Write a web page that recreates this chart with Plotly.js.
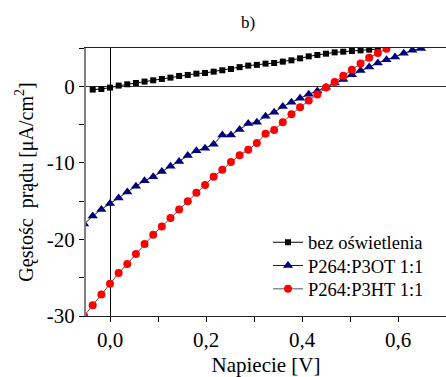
<!DOCTYPE html>
<html>
<head>
<meta charset="utf-8">
<script src="https://cdn.plot.ly/plotly-3.0.1.min.js"></script>
<style>html,body{margin:0;padding:0;background:#fff;}#chart{width:446px;height:377px;}</style>
</head>
<body>
<div id="chart"></div>
<script>
// Voltage [V]
var darkX = [-0.036,-0.018,0,0.018,0.036,0.054,0.072,0.09,0.108,0.126,0.144,0.162,0.18,0.198,0.216,0.234,0.252,0.27,0.288,0.306,0.324,0.342,0.36,0.378,0.396,0.414,0.432,0.45,0.468,0.486,0.504,0.522,0.54,0.558];
var darkY = [-0.43,-0.35,-0.17,0.09,0.26,0.43,0.61,0.78,0.96,1.13,1.35,1.48,1.65,1.74,1.91,2.09,2.26,2.5,2.7,2.8,2.96,3.04,3.22,3.39,3.65,3.91,4.09,4.26,4.43,4.52,4.61,4.69,4.78,4.87];

var p3otX = [-0.054,-0.036,-0.018,0,0.018,0.036,0.054,0.072,0.09,0.108,0.126,0.144,0.162,0.18,0.198,0.216,0.234,0.252,0.27,0.288,0.306,0.324,0.342,0.36,0.378,0.396,0.414,0.432,0.45,0.468,0.486,0.504,0.522,0.54,0.558,0.576,0.594,0.612,0.63,0.648];
var p3otY = [-18.0,-16.95,-16.08,-15.3,-14.6,-13.82,-13.04,-12.34,-11.82,-11.13,-10.43,-9.82,-9.04,-8.43,-8.08,-7.56,-6.35,-6.35,-5.65,-4.87,-4.69,-3.9,-3.39,-2.65,-2.1,-1.55,-1.04,-0.6,-0.12,0.43,0.87,1.5,2.05,2.52,3.04,3.48,3.82,4.3,4.69,4.95];

var p3htX = [-0.054,-0.036,-0.018,0,0.018,0.036,0.054,0.072,0.09,0.108,0.126,0.144,0.162,0.18,0.198,0.216,0.234,0.252,0.27,0.288,0.306,0.324,0.342,0.36,0.378,0.396,0.414,0.432,0.45,0.468,0.486,0.504,0.522,0.54,0.558,0.576];
var p3htY = [-30.0,-28.6,-27.2,-25.8,-24.4,-23.2,-21.9,-20.6,-19.4,-18.3,-17.2,-16.1,-15.0,-13.9,-12.9,-11.8,-10.9,-9.9,-9.0,-8.3,-7.4,-6.2,-5.7,-4.7,-3.65,-2.75,-1.87,-1.06,-0.17,0.56,1.39,2.17,2.96,3.74,4.35,4.9];

var seriesNames = ['bez oświetlenia', 'P264:P3OT 1:1', 'P264:P3HT 1:1'];
var yTickVals = [-30, -20, -10, 0];
var yTickText = ['-30', '-20', '-10', '0'];

var FONT = 'Liberation Serif';

var traces = [
  {x: darkX, y: darkY, name: seriesNames[0], type: 'scatter', mode: 'lines+markers', legend: 'legend',
   line: {color: '#000', width: 1}, marker: {symbol: 'square', size: 6, color: '#000'}},
  {x: p3otX, y: p3otY, name: seriesNames[1], type: 'scatter', mode: 'lines+markers', legend: 'legend2',
   line: {color: '#222', width: 1}, marker: {symbol: 'triangle-up', size: 9, color: '#00007f'}},
  {x: p3htX, y: p3htY, name: seriesNames[2], type: 'scatter', mode: 'lines+markers', legend: 'legend3',
   line: {color: '#555', width: 1}, marker: {symbol: 'circle', size: 8, color: '#ff0000'}}
];

function leg(py) {
  return {x: (268-86)/360, xanchor: 'left', y: (316-py)/268, yanchor: 'middle',
          bgcolor: 'rgba(0,0,0,0)', borderwidth: 0,
          font: {family: FONT, size: 18.5, color: '#000'}};
}

var layout = {
  width: 446, height: 377,
  margin: {l: 86, r: 0, t: 48, b: 61, pad: 0},
  paper_bgcolor: '#fff', plot_bgcolor: '#fff',
  separators: ', ',
  font: {family: FONT, size: 20, color: '#000'},
  showlegend: true,
  title: {text: 'b)', font: {family: FONT, size: 17, color: '#000'},
          x: 248/446, xanchor: 'center', xref: 'container', y: 1 - 22/377, yanchor: 'middle', yref: 'container'},
  xaxis: {
    range: [-0.05, 0.7], dtick: 0.2, tick0: 0, tickformat: '.1f',
    ticks: 'outside', ticklen: 5, tickwidth: 1, tickcolor: '#000',
    minor: {dtick: 0.1, ticks: 'outside', ticklen: 5, tickwidth: 1, tickcolor: '#000', showgrid: false},
    showline: true, linecolor: '#222', linewidth: 1, mirror: true,
    showgrid: false, zeroline: true, zerolinecolor: '#000', zerolinewidth: 1,
    tickfont: {family: FONT, size: 21, color: '#000'},
    title: {text: 'Napiecie [V]', font: {family: FONT, size: 21, color: '#000'}, standoff: 16}
  },
  yaxis: {
    range: [-30, 5], tickvals: yTickVals, ticktext: yTickText,
    ticks: 'outside', ticklen: 5, tickwidth: 1, tickcolor: '#000',
    minor: {dtick: 5, tick0: 0, ticks: 'outside', ticklen: 5, tickwidth: 1, tickcolor: '#000', showgrid: false},
    showline: true, linecolor: '#808080', linewidth: 2, mirror: true,
    showgrid: false, zeroline: true, zerolinecolor: '#333', zerolinewidth: 1,
    tickfont: {family: FONT, size: 21, color: '#000'},
    title: {text: 'Gęstośc  prądu [μA/cm<sup>2</sup>]', font: {family: FONT, size: 20, color: '#000'}, standoff: 8}
  },
  legend: leg(242.7),
  legend2: leg(266),
  legend3: leg(289.3)
};

Plotly.newPlot('chart', traces, layout, {displayModeBar: false, staticPlot: true});
</script>
</body>
</html>
